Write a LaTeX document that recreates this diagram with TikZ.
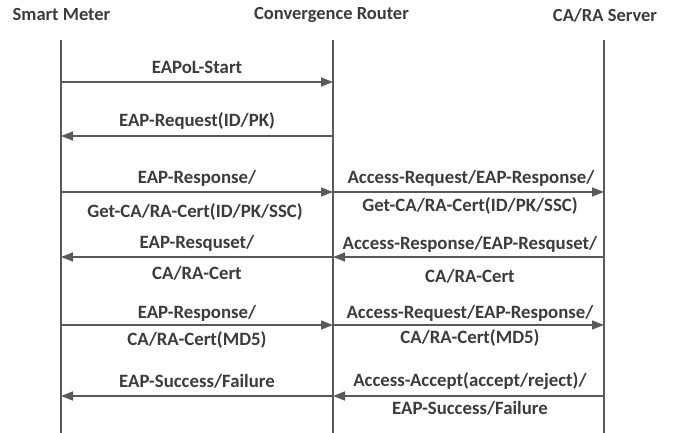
\documentclass[tikz,border=0pt]{standalone}
\usepackage{fontspec}
\setmainfont{Carlito}
\usetikzlibrary{arrows.meta}
\definecolor{txt}{HTML}{3C3C3C}
\definecolor{ln}{HTML}{5A5A5A}
\tikzset{
  hdr/.style={font=\fontsize{18.5}{20}\selectfont\bfseries, text=txt, inner sep=0pt},
  lbl/.style={font=\fontsize{18.8}{21}\selectfont\bfseries, text=txt, inner sep=0pt},
  life/.style={draw=ln, line width=1.6pt},
  msg/.style={draw=ln, line width=1.6pt, -{Triangle[length=12pt,width=9pt]}}
}
\begin{document}
\begin{tikzpicture}[x=1pt,y=-1pt]
\useasboundingbox (0,0) rectangle (673,433);
% headers
\node[hdr] (hsm) at (61.5,15) {Smart Meter};
\node[hdr] (hcr) at (331.5,15) {Convergence Router};
\node[hdr] (hca) at (605,15) {CA/RA Server};
% lifelines
\coordinate (smT) at (61,40);  \coordinate (smB) at (61,433);
\coordinate (crT) at (333,40); \coordinate (crB) at (333,433);
\coordinate (caT) at (604,40); \coordinate (caB) at (604,433);
\draw[life] (smT) -- (smB);
\draw[life] (crT) -- (crB);
\draw[life] (caT) -- (caB);
% message endpoints
\foreach \n/\y in {1/82,2/136,3/192,4/257,5/325,6/396}{
  \coordinate (s\n) at (61,\y);
  \coordinate (c\n) at (333,\y);
  \coordinate (a\n) at (604,\y);
}
% messages
\draw[msg] (s1) -- (c1);
\node[lbl] (l1) at (197,67) {EAPoL-Start};
\draw[msg] (c2) -- (s2);
\node[lbl] (l2) at (197,121) {EAP-Request(ID/PK)};
\draw[msg] (s3) -- (c3);
\node[lbl] (l3a) at (197,178) {EAP-Response/};
\node[lbl] (l3b) at (195,212) {Get-CA/RA-Cert(ID/PK/SSC)};
\draw[msg] (c3) -- (a3);
\node[lbl] (r3a) at (471,178) {Access-Request/EAP-Response/};
\node[lbl] (r3b) at (470,206) {Get-CA/RA-Cert(ID/PK/SSC)};
\draw[msg] (c4) -- (s4);
\node[lbl] (l4a) at (197,243) {EAP-Resquset/};
\node[lbl] (l4b) at (197,273) {CA/RA-Cert};
\draw[msg] (a4) -- (c4);
\node[lbl] (r4a) at (470,244) {Access-Response/EAP-Resquset/};
\node[lbl] (r4b) at (470,276) {CA/RA-Cert};
\draw[msg] (s5) -- (c5);
\node[lbl] (l5a) at (197,313) {EAP-Response/};
\node[lbl] (l5b) at (197,340) {CA/RA-Cert(MD5)};
\draw[msg] (c5) -- (a5);
\node[lbl] (r5a) at (470,313) {Access-Request/EAP-Response/};
\node[lbl] (r5b) at (470,338) {CA/RA-Cert(MD5)};
\draw[msg] (c6) -- (s6);
\node[lbl] (l6) at (197,381) {EAP-Success/Failure};
\draw[msg] (a6) -- (c6);
\node[lbl] (r6a) at (470,381) {Access-Accept(accept/reject)/};
\node[lbl] (r6b) at (470,408) {EAP-Success/Failure};
\end{tikzpicture}
\end{document}
